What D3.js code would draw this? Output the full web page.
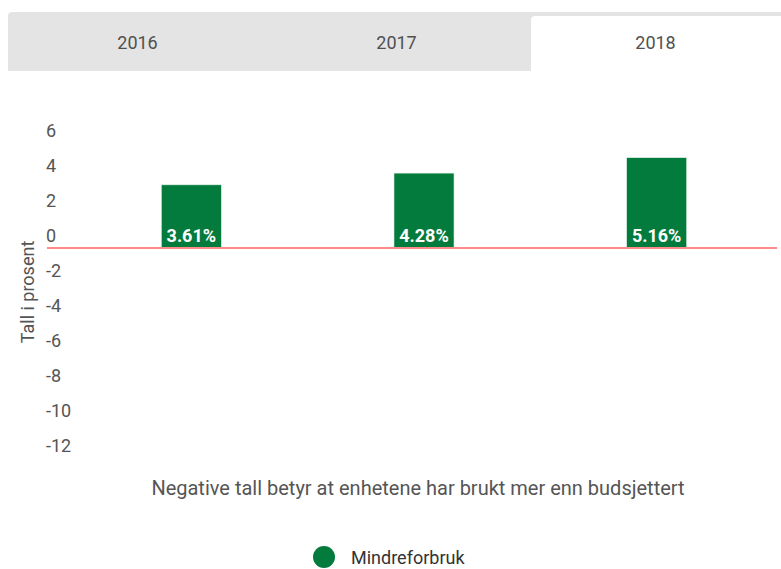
<!DOCTYPE html>
<html>
<head>
<meta charset="utf-8">
<script src="https://cdn.jsdelivr.net/npm/d3@7"></script>
<style>
  body { margin: 0; background: #fff; font-family: Roboto, "Noto Sans", sans-serif; }
</style>
</head>
<body>
<script>
// chart data
const years = ["2016", "2017", "2018"]
const activeYear = "2018"
const categories = ["a", "b", "c"]
const values = [3.61, 4.28, 5.16]
const yTicks = [6, 4, 2, 0, -2, -4, -6, -8, -10, -12]
const seriesName = "Mindreforbruk"

const width = 781, height = 569
const green = "#037b3d"

const svg = d3.select("body").append("svg")
    .attr("width", width)
    .attr("height", height)

// tabs
const tabs = svg.append("g").attr("id", "tabs")
tabs.append("path")
    .attr("d", "M8,71 V16 Q8,12 12,12 H781 V71 Z")
    .attr("fill", "#e4e4e4")
const tabX = d3.scaleBand().domain(years).range([8, 785])
tabs.append("path")
    .attr("d", `M${tabX(activeYear) + 5},71 V20 Q${tabX(activeYear) + 5},16 ${tabX(activeYear) + 9},16 H781 V71 Z`)
    .attr("fill", "#fff")
tabs.selectAll("text")
    .data(years)
    .enter()
    .append("text")
    .text(d => d)
    .attr("x", d => tabX(d) + tabX.bandwidth() / 2)
    .attr("y", 42)
    .attr("text-anchor", "middle")
    .attr("dominant-baseline", "central")
    .attr("fill", "#505050")
    .style("font-size", "18px")

// scales
const x = d3.scaleBand()
    .domain(categories)
    .range([75, 773])
    .paddingInner(0.742)
    .paddingOuter(0.371)
const y = d3.scaleLinear()
    .domain([-12, 6])
    .range([458, 143])

// y axis labels
const yAxis = svg.append("g")
    .attr("id", "y-axis")
    .attr("transform", "translate(46,0)")
    .call(d3.axisLeft(y).tickValues(yTicks).tickSize(0).tickFormat(d => d))
yAxis.select(".domain").remove()
yAxis.selectAll("text")
    .attr("x", 0)
    .attr("dy", null)
    .attr("y", -13)
    .attr("dominant-baseline", "central")
    .attr("text-anchor", "start")
    .attr("fill", "#555")
    .style("font-family", "Roboto, sans-serif")
    .style("font-size", "18px")

svg.append("text")
    .text("Tall i prosent")
    .attr("transform", `translate(27, 292) rotate(-90)`)
    .attr("text-anchor", "middle")
    .attr("dominant-baseline", "central")
    .attr("fill", "#555")
    .style("font-size", "18px")

// bars
svg.append("g").attr("id", "bars")
    .selectAll("rect")
    .data(values)
    .enter()
    .append("rect")
    .attr("x", (d, i) => x(categories[i]))
    .attr("width", x.bandwidth())
    .attr("y", d => y(d))
    .attr("height", d => y(0) - y(d))
    .attr("fill", green)
    .attr("stroke", "#dfeee5")
    .attr("stroke-width", 0.6)

// zero line
svg.append("line")
    .attr("x1", 47)
    .attr("x2", 777)
    .attr("y1", y(0))
    .attr("y2", y(0))
    .attr("stroke", "#ff8a8a")
    .attr("stroke-width", 2)

// bar labels
svg.append("g").attr("id", "labels")
    .selectAll("text")
    .data(values)
    .enter()
    .append("text")
    .text(d => d.toFixed(2) + "%")
    .attr("x", (d, i) => x(categories[i]) + x.bandwidth() / 2)
    .attr("y", y(0) - 6)
    .attr("text-anchor", "middle")
    .attr("fill", "#fff")
    .style("font-size", "18px")
    .style("font-weight", "bold")

// caption
svg.append("text")
    .text("Negative tall betyr at enhetene har brukt mer enn budsjettert")
    .attr("x", 418)
    .attr("y", 488)
    .attr("text-anchor", "middle")
    .attr("dominant-baseline", "central")
    .attr("fill", "#555")
    .style("font-size", "20px")

// legend
const legend = svg.append("g").attr("id", "legend")
legend.append("circle")
    .attr("cx", 324)
    .attr("cy", 557)
    .attr("r", 11)
    .attr("fill", green)
legend.append("text")
    .text(seriesName)
    .attr("x", 351)
    .attr("y", 557)
    .attr("dominant-baseline", "central")
    .attr("fill", "#333")
    .style("font-size", "18px")
</script>
</body>
</html>
